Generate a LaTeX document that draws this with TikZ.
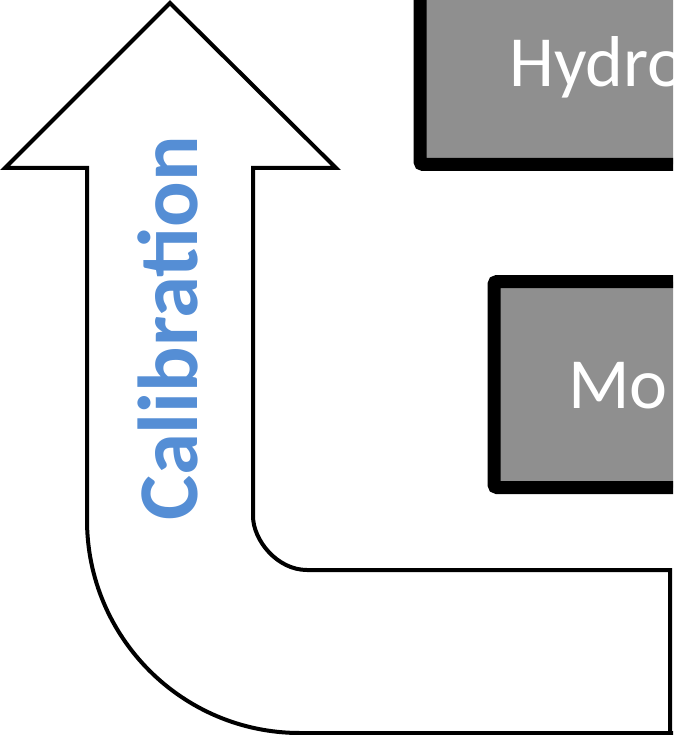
\documentclass[tikz,border=0pt]{standalone}
\usepackage{fontspec}
\setmainfont{Carlito}
\definecolor{calblue}{RGB}{85,142,213}
\definecolor{boxgray}{RGB}{143,143,143}
\tikzset{
  modelbox/.style={draw=black, fill=boxgray, line width=13pt, rounded corners=3pt},
  boxtext/.style={text=white, inner sep=0pt, font=\fontsize{72}{80}\selectfont},
  bigarrow/.style={draw=black, fill=white, line width=4pt, line join=miter},
  arrowtext/.style={text=calblue, inner sep=0pt, font=\fontsize{85}{90}\selectfont\bfseries}
}
\begin{document}
\begin{tikzpicture}[x=1pt,y=-1pt]
\useasboundingbox (0,0) rectangle (673,735);
\clip (0,0) rectangle (673,735);
% boxes
\draw[modelbox] (420,-60) rectangle (820,164.5);
\node[boxtext, anchor=base west] (hydro) at (509,87) {Hydro};
\draw[modelbox] (494,281.5) rectangle (820,487.5);
\node[boxtext, anchor=base west] (mo) at (568,408) {Mo};
% calibration arrow
\draw[bigarrow] (670,800) -- (670,570) -- (307,570)
  .. controls (277.2,570) and (253,540.2) .. (253,516)
  -- (253,168) -- (336,168) -- (170,3) -- (5,168) -- (87,168) -- (87,520)
  .. controls (87,637.6) and (182.4,733) .. (300,733) -- (800,733);
\node[arrowtext, rotate=90, anchor=base] (calib) at (197,328.5) {Calibration};
\end{tikzpicture}
\end{document}
